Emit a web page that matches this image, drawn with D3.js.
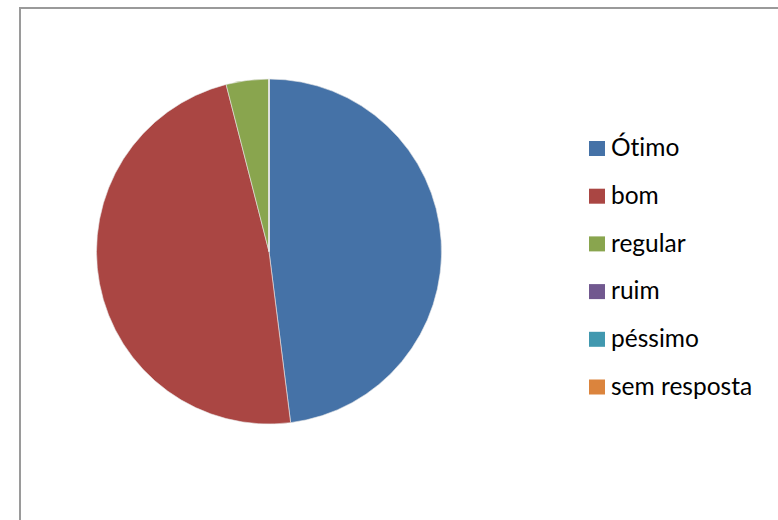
<!DOCTYPE html>
<html><head><meta charset="utf-8">
<script src="https://cdn.jsdelivr.net/npm/d3@7"></script>
<style>body{margin:0;background:#fff}svg{display:block}text{font-variant-ligatures:none;font-feature-settings:"liga" 0}</style>
</head><body>
<script>
const categories = ["Ótimo","bom","regular","ruim","péssimo","sem resposta"];
const values = [12,12,1,0,0,0];
const colors = ["#4572A7","#AA4643","#89A54E","#71588F","#4198AF","#DB843D"];

const W=778,H=520;
const svg=d3.select("body").append("svg").attr("width",W).attr("height",H);
svg.append("rect").attr("x",20).attr("y",8).attr("width",W).attr("height",H)
  .attr("fill","#fff").attr("stroke","#9a9a9a").attr("stroke-width",2);

const cx=269, cy=251.5, r=172.5;
const pie=d3.pie().sort(null).value(d=>d)(values);
const arc=d3.arc().innerRadius(0).outerRadius(r);
const g=svg.append("g").attr("transform",`translate(${cx},${cy})`);
g.selectAll("path").data(pie).join("path")
  .attr("d",arc).attr("fill",(d,i)=>colors[i])
  .attr("stroke","#e8e8e8").attr("stroke-width",0.6);

const y=d3.scalePoint().domain(categories).range([148.5,387]);
const lg=svg.append("g");
categories.forEach((c,i)=>{
  lg.append("rect").attr("x",589).attr("y",y(c)-7.5).attr("width",16).attr("height",15).attr("fill",colors[i]);
  lg.append("text").attr("x",611).attr("y",y(c)).attr("dy","0.32em")
    .attr("font-family","Lato, Carlito, sans-serif").attr("font-size",24.5).attr("fill","#000").text(c);
});
</script>
</body></html>
